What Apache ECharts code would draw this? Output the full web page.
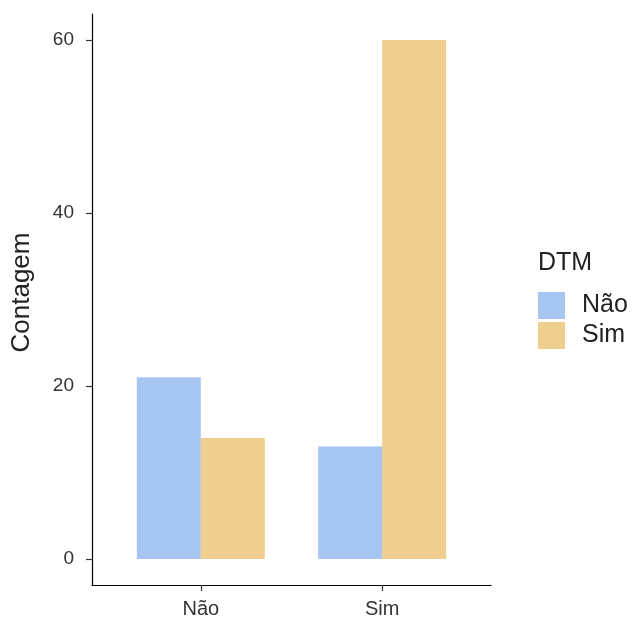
<!DOCTYPE html>
<html><head><meta charset="utf-8">
<script src="https://cdn.jsdelivr.net/npm/echarts@6/dist/echarts.min.js"></script>
<style>html,body{margin:0;padding:0;background:#fff}#c{width:634px;height:623px}</style>
</head><body><div id="c"></div>
<script>
const categories = ['Não', 'Sim'];
const categoryPos = [1, 2];
const seriesNames = ['Não', 'Sim'];
const valuesNao = [21, 13];
const valuesSim = [14, 60];
const yTicks = [0, 20, 40, 60];
const colors = ['#A7C5F1', '#F0CE8F'];

const chart = echarts.init(document.getElementById('c'), null, {renderer: 'canvas'});
const font = 'Liberation Sans, Arial, sans-serif';
const makeData = vals => vals.map((v, i) => [categoryPos[i], v]);
chart.setOption({
  animation: false,
  backgroundColor: '#fff',
  grid: {left: 92, right: 143, top: 14, bottom: 38, containLabel: false, outerBoundsMode: 'none'},
  xAxis: {
    type: 'value', min: 0.4, max: 2.6,
    splitLine: {show: false},
    axisLine: {show: true, onZero: false, lineStyle: {color: '#000', width: 1.2}},
    axisTick: {show: true, customValues: categoryPos, length: 6, lineStyle: {color: '#333', width: 1.2}},
    axisLabel: {customValues: categoryPos, formatter: v => categories[categoryPos.indexOf(v)] || '',
      fontFamily: font, fontSize: 20, color: '#333', margin: 14}
  },
  yAxis: {
    type: 'value', min: -3, max: 63,
    name: 'Contagem', nameLocation: 'middle', nameGap: 57,
    nameTextStyle: {fontFamily: font, fontSize: 26, color: '#222', padding: [0, 0, 0, 14]},
    splitLine: {show: false},
    axisLine: {show: true, onZero: false, lineStyle: {color: '#000', width: 1.2}},
    axisTick: {show: true, customValues: yTicks, length: 6, lineStyle: {color: '#333', width: 1.2}},
    axisLabel: {customValues: yTicks, fontFamily: font, fontSize: 19, color: '#333', margin: 18}
  },
  legend: {
    orient: 'vertical', left: 538, top: 292, padding: 0, itemWidth: 27, itemHeight: 27, itemGap: 3,
    icon: 'rect', data: seriesNames,
    textStyle: {fontFamily: font, fontSize: 25, color: '#222', padding: [0, 0, 0, 12]}
  },
  graphic: [{type: 'text', left: 538, top: 251,
    style: {text: 'DTM', font: '25px Liberation Sans, Arial, sans-serif', fill: '#222'}}],
  series: [
    {name: seriesNames[0], type: 'bar', data: makeData(valuesNao), barWidth: 64, barGap: '0%',
     itemStyle: {color: colors[0]}},
    {name: seriesNames[1], type: 'bar', data: makeData(valuesSim), barWidth: 64, barGap: '0%',
     itemStyle: {color: colors[1]}}
  ]
});
</script></body></html>
